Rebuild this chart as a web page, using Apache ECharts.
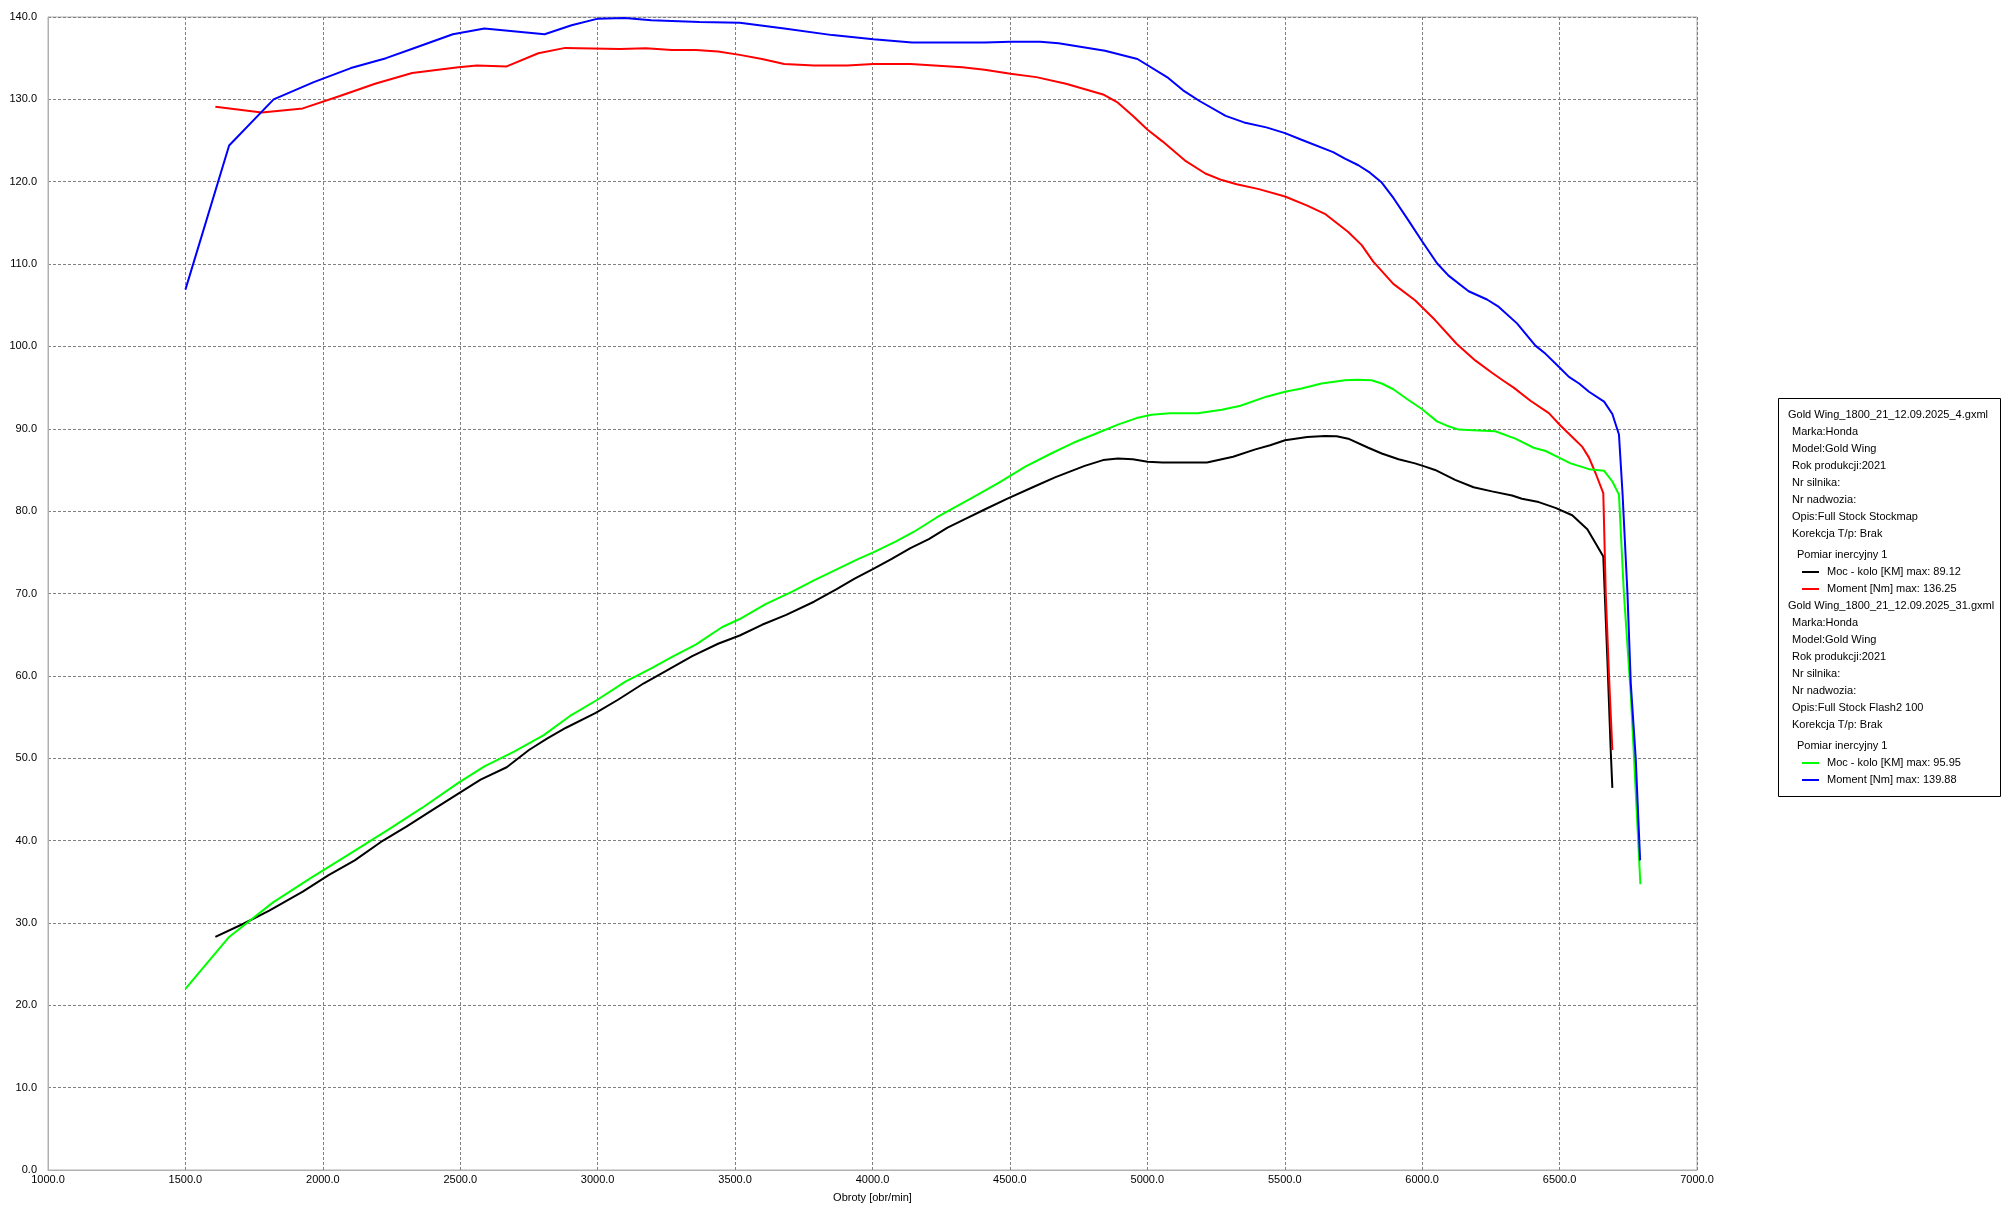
<!DOCTYPE html>
<html>
<head>
<meta charset="utf-8">
<script src="https://cdn.jsdelivr.net/npm/echarts@6/dist/echarts.min.js"></script>
<style>
html,body{margin:0;padding:0;background:#fff;}
#chart{width:2008px;height:1211px;}
</style>
</head>
<body>
<div id="chart"></div>
<script>
// ---- Data ----
const xTicks = [1000,1500,2000,2500,3000,3500,4000,4500,5000,5500,6000,6500,7000];
const yTicks = [0,10,20,30,40,50,60,70,80,90,100,110,120,130,140];

// Run 1: Gold Wing_1800_21_12.09.2025_4.gxml
const run1PowerRpm = [1609,1711,1805,1927,2021,2116,2210,2304,2398,2493,2574,2669,2750,2817,2885,2993,3074,3168,3249,3344,3438,3517,3598,3686,3787,3868,3935,4003,4070,4138,4205,4273,4340,4408,4489,4583,4664,4772,4839,4893,4947,5001,5055,5217,5312,5393,5447,5501,5582,5646,5689,5731,5804,5853,5914,5974,6011,6047,6120,6187,6254,6327,6363,6424,6485,6546,6601,6631,6659,6674,6686,6692];
const run1Power = [28.3,29.9,31.5,33.8,35.8,37.6,39.8,41.7,43.7,45.7,47.4,48.9,51.0,52.4,53.7,55.5,57.1,59.1,60.6,62.4,63.9,64.9,66.2,67.4,69.0,70.5,71.8,73.0,74.2,75.5,76.6,78.0,79.1,80.2,81.5,82.9,84.1,85.5,86.2,86.4,86.3,86.0,85.9,85.9,86.6,87.5,88.0,88.6,89.0,89.12,89.1,88.8,87.7,87.0,86.3,85.8,85.4,85.0,83.8,82.9,82.4,81.9,81.5,81.1,80.4,79.5,77.8,76.1,74.5,61.9,51.0,46.4];

const run1TorqueRpm = [1609,1778,1927,2062,2190,2325,2493,2561,2669,2784,2882,3081,3175,3270,3357,3438,3517,3598,3679,3787,3908,4003,4138,4327,4408,4502,4596,4704,4839,4893,4947,5001,5055,5136,5211,5271,5325,5406,5501,5582,5646,5731,5780,5822,5895,5974,6047,6126,6193,6254,6297,6333,6394,6461,6503,6546,6583,6607,6631,6659,6668,6680,6692];
const run1Torque = [129.1,128.4,128.9,130.4,131.9,133.2,133.9,134.1,134.0,135.6,136.25,136.1,136.2,136.0,136.0,135.8,135.4,134.9,134.3,134.1,134.1,134.3,134.3,133.9,133.6,133.1,132.7,131.9,130.6,129.6,128.0,126.3,124.9,122.6,121.0,120.2,119.7,119.1,118.2,117.1,116.1,113.9,112.3,110.3,107.6,105.6,103.2,100.3,98.3,96.8,95.8,95.0,93.4,91.9,90.4,89.0,87.8,86.5,84.6,82.2,70.0,59.9,51.0];

// Run 2: Gold Wing_1800_21_12.09.2025_31.gxml
const run2PowerRpm = [1500,1659,1819,1954,2089,2237,2358,2493,2588,2696,2804,2898,2999,3101,3195,3276,3357,3452,3517,3611,3706,3787,3868,3949,4003,4084,4151,4232,4286,4367,4462,4556,4650,4731,4812,4893,4961,5015,5082,5183,5271,5339,5433,5501,5561,5634,5719,5762,5816,5853,5895,5950,5999,6054,6096,6133,6206,6266,6339,6406,6449,6498,6540,6607,6662,6692,6716,6734,6759,6771,6794];
const run2Power = [22.0,28.3,32.5,35.4,38.2,41.3,43.9,47.0,49.0,50.8,52.8,55.1,57.1,59.3,60.9,62.4,63.8,65.9,66.9,68.7,70.2,71.6,72.9,74.2,75.0,76.3,77.5,79.2,80.2,81.7,83.5,85.4,87.0,88.3,89.4,90.5,91.3,91.7,91.9,91.9,92.3,92.8,93.9,94.5,94.9,95.5,95.9,95.95,95.9,95.5,94.8,93.5,92.4,90.9,90.3,89.9,89.8,89.7,88.8,87.7,87.3,86.5,85.8,85.1,84.9,83.6,82.0,70.0,57.8,50.0,34.7];

const run2TorqueRpm = [1500,1659,1821,1967,2102,2230,2331,2473,2588,2807,2905,3001,3098,3195,3371,3517,3679,3854,4003,4144,4408,4502,4610,4677,4846,4964,5076,5130,5190,5285,5352,5433,5501,5561,5676,5719,5768,5810,5853,5896,5950,5999,6054,6096,6169,6236,6279,6345,6412,6449,6498,6534,6571,6607,6662,6692,6716,6729,6747,6759,6777,6793];
const run2Torque = [106.9,124.4,130.0,132.1,133.8,135.0,136.2,137.9,138.6,137.9,139.0,139.8,139.88,139.6,139.4,139.3,138.6,137.8,137.3,136.9,136.9,137.0,137.0,136.8,135.9,134.9,132.6,131.1,129.8,128.0,127.2,126.6,125.9,125.1,123.6,122.8,122.0,121.1,119.9,118.0,115.3,112.8,110.1,108.6,106.7,105.7,104.8,102.8,100.1,99.1,97.5,96.3,95.5,94.5,93.3,91.8,89.3,82.2,70.0,59.1,50.0,37.6];

const seriesNames = ['Moc - kolo [KM] max: 89.12','Moment [Nm] max: 136.25','Moc - kolo [KM] max: 95.95','Moment [Nm] max: 139.88'];
const seriesColors = ['#000000','#ff0000','#00ff00','#0000ff'];
const run1Info = ['Gold Wing_1800_21_12.09.2025_4.gxml','Marka:Honda','Model:Gold Wing','Rok produkcji:2021','Nr silnika:','Nr nadwozia:','Opis:Full Stock Stockmap','Korekcja T/p: Brak','Pomiar inercyjny 1'];
const run2Info = ['Gold Wing_1800_21_12.09.2025_31.gxml','Marka:Honda','Model:Gold Wing','Rok produkcji:2021','Nr silnika:','Nr nadwozia:','Opis:Full Stock Flash2 100','Korekcja T/p: Brak','Pomiar inercyjny 1'];
const xAxisName = 'Obroty [obr/min]';

// ---- Build ----
const zip = (a,b) => a.map((v,i)=>[v,b[i]]);
const seriesData = [zip(run1PowerRpm,run1Power), zip(run1TorqueRpm,run1Torque), zip(run2PowerRpm,run2Power), zip(run2TorqueRpm,run2Torque)];

const FONT = 'Liberation Sans';
const gridCol = '#808080';
const borderCol = '#b0b0b0';

// Legend box (graphic)
const lg = [];
const boxX = 1778, boxY = 398, boxW = 222, boxH = 398;
lg.push({type:'rect', shape:{x:boxX+0.5,y:boxY+0.5,width:boxW,height:boxH}, style:{fill:'#fff',stroke:'#000',lineWidth:1}});
let y = 415;
const lineH = 17;
function addRun(info, sIdx){
  info.forEach((t,i)=>{
    let x = i===0 ? 1788 : (i===info.length-1 ? 1797 : 1792);
    if(i===info.length-1) y += 4;
    lg.push({type:'text', x:x, y:y, style:{text:t, fill:'#000', font:'11px "'+FONT+'"', verticalAlign:'middle', align:'left'}});
    y += lineH;
  });
  sIdx.forEach(k=>{
    lg.push({type:'line', shape:{x1:1802,y1:y,x2:1819,y2:y}, style:{stroke:seriesColors[k],lineWidth:2}});
    lg.push({type:'text', x:1827, y:y, style:{text:seriesNames[k], fill:'#000', font:'11px "'+FONT+'"', verticalAlign:'middle', align:'left'}});
    y += lineH;
  });
}
addRun(run1Info,[0,1]);
addRun(run2Info,[2,3]);

const chart = echarts.init(document.getElementById('chart'), null, {renderer:'canvas'});
chart.setOption({
  animation:false,
  backgroundColor:'#ffffff',
  textStyle:{fontFamily:FONT},
  grid:{left:48,right:311,top:17,bottom:41,containLabel:false,show:true,borderColor:borderCol,borderWidth:1,backgroundColor:'transparent'},
  xAxis:{
    type:'value', min:xTicks[0], max:xTicks[xTicks.length-1], interval:500,
    name:xAxisName, nameLocation:'middle', nameGap:22,
    nameTextStyle:{color:'#000',fontSize:11,fontFamily:FONT},
    axisLine:{show:true,lineStyle:{color:borderCol,width:1}},
    axisTick:{show:false},
    axisLabel:{color:'#000',fontSize:11,fontFamily:FONT,margin:4,formatter:v=>v.toFixed(1),showMinLabel:true,showMaxLabel:true},
    splitLine:{show:true,lineStyle:{color:gridCol,type:[3,2],width:1}}
  },
  yAxis:{
    type:'value', min:yTicks[0], max:yTicks[yTicks.length-1], interval:10,
    axisLine:{show:true,lineStyle:{color:borderCol,width:1}},
    axisTick:{show:false},
    axisLabel:{color:'#000',fontSize:11,fontFamily:FONT,margin:11,formatter:v=>v.toFixed(1)},
    splitLine:{show:true,lineStyle:{color:gridCol,type:[3,2],width:1}}
  },
  series: seriesData.map((d,i)=>({
    type:'line', name:seriesNames[i], data:d, showSymbol:false, symbol:'none',
    lineStyle:{color:seriesColors[i],width:2}, itemStyle:{color:seriesColors[i]},
    z:2+i, clip:true
  })),
  graphic: lg
});
</script>
</body>
</html>
